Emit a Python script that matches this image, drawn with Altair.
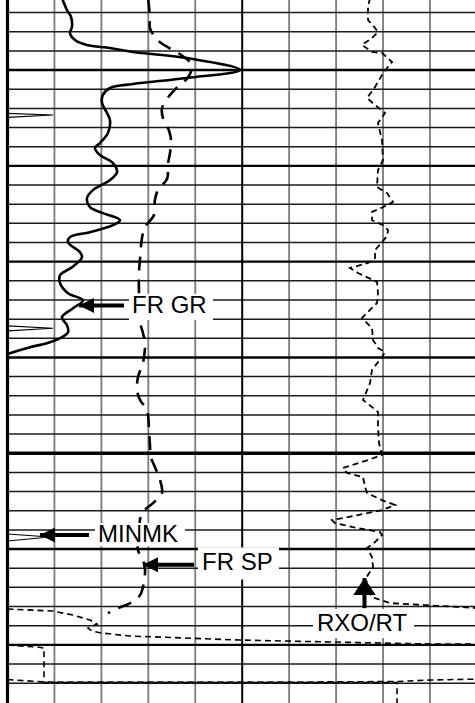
import altair as alt
import pandas as pd
import numpy as np

# ---------------- curve data (depth in ft) ----------------
# Gamma ray, API units; track 1 spans 0-150 API
gr_depth = [5002.40, 5003.73, 5004.46, 5005.50, 5006.13, 5006.86, 5007.38, 5007.70, 5008.11, 5008.74,
            5009.99, 5010.83, 5011.45, 5011.87, 5012.60, 5013.44, 5014.48, 5015.22, 5016.57, 5017.62,
            5018.14, 5018.87, 5019.71, 5020.65, 5021.48, 5022.53, 5023.37, 5024.31, 5024.93, 5025.66,
            5026.19, 5026.92, 5027.44, 5027.97, 5029.01, 5029.53, 5030.58, 5031.41, 5032.25, 5033.29,
            5034.03, 5034.86, 5035.80, 5036.63, 5037.37, 5037.99, 5038.51, 5038.93, 5039.56, 5039.67]
gr_api = [34.6, 38.0, 40.6, 41.2, 39.9, 43.1, 50.8, 65.5, 80.2, 114.7,
          148.6, 114.7, 80.2, 65.5, 61.0, 60.4, 63.6, 65.5, 64.2, 59.1,
          55.9, 59.1, 67.4, 70.0, 65.5, 54.6, 50.8, 52.7, 61.0, 71.9,
          67.4, 52.7, 39.9, 38.7, 46.3, 47.6, 41.2, 33.6, 33.6, 38.7,
          48.3, 41.9, 34.8, 38.0, 38.7, 33.6, 25.2, 14.4, 1.6, 0.0]

# Spontaneous potential, mV; track 1 spans -100 to 0 mV
sp_depth = [5002.48, 5004.56, 5005.61, 5006.90, 5007.74, 5008.47, 5009.51, 5010.77, 5011.82, 5012.86,
            5014.01, 5015.06, 5016.31, 5017.36, 5018.71, 5019.76, 5021.34, 5022.52, 5023.56, 5025.13,
            5026.38, 5027.53, 5029.62, 5031.18, 5032.96, 5036.30, 5037.45, 5038.49, 5040.58, 5042.04,
            5043.40, 5044.44, 5045.49, 5047.58, 5049.14, 5050.40, 5051.44, 5052.80, 5054.16, 5055.20,
            5056.25, 5058.02, 5060.11, 5061.15, 5062.20, 5063.97, 5064.81, 5065.54, 5066.17, 5066.69]
sp_mv = [-40.1, -39.3, -39.3, -35.9, -30.8, -25.7, -21.4, -23.1, -27.8, -31.6,
         -34.2, -33.7, -31.2, -30.3, -30.8, -31.6, -32.0, -35.9, -37.2, -37.6,
         -41.4, -42.7, -43.5, -44.0, -44.0, -43.5, -42.3, -41.4, -42.3, -44.4,
         -44.8, -43.5, -40.6, -39.7, -39.3, -38.9, -37.2, -35.0, -34.2, -38.0,
         -42.7, -44.0, -44.4, -42.3, -41.4, -42.3, -43.5, -47.0, -52.9, -57.2]

# Micro-log kicks, ohm-m; track 1 spans 0-20 ohm-m
minmk_kick = [1, 1, 1, 2, 2, 2, 3, 3, 3]
minmk_depth = [5014.51, 5014.69, 5014.93, 5036.71, 5036.95, 5037.23, 5058.43, 5058.74, 5059.16]
minmk_ohmm = [0.0, 3.88, 0.0, 0.0, 3.88, 0.0, 0.0, 3.62, 0.0]

# RXO/RT ratio; track 2 spans 0-2
rxo_depth = [5002.48, 5003.42, 5004.77, 5005.61, 5006.03, 5006.65, 5007.38, 5008.11, 5008.21, 5009.16,
             5009.78, 5010.51, 5011.77, 5012.91, 5013.65, 5014.48, 5015.53, 5017.30, 5019.39, 5020.44,
             5022.21, 5022.84, 5023.77, 5024.30, 5024.81, 5025.66, 5026.19, 5026.71, 5027.32, 5027.97,
             5028.78, 5029.62, 5030.14, 5030.66, 5031.18, 5032.12, 5033.27, 5034.31, 5035.25, 5035.88,
             5036.92, 5038.17, 5039.01, 5039.43, 5039.95, 5041.31, 5042.66, 5044.44, 5044.75, 5045.69,
             5047.25, 5048.93, 5050.18, 5050.71, 5051.54, 5052.06, 5052.48, 5053.53, 5054.15, 5054.89,
             5055.41, 5055.93, 5056.46, 5056.98, 5057.29, 5057.71, 5058.23, 5058.54, 5059.27, 5059.90,
             5060.84, 5061.88, 5063.03, 5064.29, 5065.02, 5065.64, 5065.94, 5066.17]
rxo_ratio = [1.089, 1.072, 1.072, 1.132, 1.157, 1.106, 1.021, 1.106, 1.191, 1.277,
             1.234, 1.191, 1.132, 1.064, 1.132, 1.217, 1.157, 1.191, 1.200, 1.157,
             1.149, 1.234, 1.285, 1.200, 1.106, 1.106, 1.200, 1.243, 1.234, 1.191,
             1.132, 1.132, 1.072, 0.919, 0.987, 1.149, 1.157, 1.149, 1.072, 1.021,
             1.106, 1.115, 1.157, 1.217, 1.191, 1.106, 1.089, 1.029, 1.064, 1.157,
             1.157, 1.166, 1.191, 1.072, 0.859, 0.893, 1.029, 1.047, 1.064, 1.191,
             1.302, 1.191, 0.987, 0.765, 0.791, 0.944, 1.174, 1.191, 1.132, 1.064,
             1.106, 1.115, 1.055, 1.072, 1.106, 1.260, 1.686, 2.027]

# Wrapped / backup traces, in chart divisions (0-10 across both tracks)
backup_depth = [5066.26, 5066.47, 5066.89, 5067.41, 5067.83, 5068.25, 5068.56,
                5068.77, 5069.08, 5069.19, 5069.50, 5069.71, 5069.92, 5069.92]
backup_div = [0.0, 0.969, 1.395, 1.758, 1.907, 1.715, 1.800,
              2.013, 2.610, 3.249, 4.953, 6.977, 9.065, 10.066]
trace_b_depth = [5070.02, 5070.23, 5070.33, 5073.93, 5073.93, 5073.93, 5076.30]
trace_b_div = [0.0, 0.639, 0.778, 0.778, 4.10, 8.298, 8.298]
trace_c_depth = [5073.62, 5073.88, 5073.88, 5073.83, 5073.67, 5073.57]
trace_c_div = [0.0, 0.799, 6.23, 8.298, 9.0, 10.066]

# Curve labels: text anchor, white box and pointer (divisions / depth)
labels = pd.DataFrame({
    "text": ["FR GR", "MINMK", "FR SP"],
    "tx": [2.652, 1.928, 4.144],
    "td": [5034.63, 5058.58, 5061.45],
    "bx0": [2.588, 1.864, 4.058], "bx1": [4.378, 3.781, 5.784],
    "bd0": [5033.37, 5057.28, 5059.85], "bd1": [5036.09, 5059.70, 5063.17],
    "tip": [1.523, 0.692, 2.887], "shaft_end": [2.482, 1.736, 3.973],
    "ad": [5034.57, 5058.53, 5061.65],
})
rxo_label = pd.DataFrame({
    "text": ["RXO/RT"], "tx": [7.552], "td": [5067.80],
    "bx0": [6.508], "bx1": [8.660], "bd0": [5066.26], "bd1": [5069.29],
    "ax": [7.605], "tip": [5063.03], "shaft_end": [5066.17],
})

# ---------------- layout ----------------
W, H = 475, 703
X0_PX, DIV_PX = 7.5, 46.94
DEPTH_TOP, DEPTH_BOTTOM = 5002.685, 5076.07
FONT = "Liberation Sans"


def xscale(left_value, per_div, first_div=0.0):
    lo = left_value + per_div * (-X0_PX / DIV_PX - first_div)
    hi = left_value + per_div * ((W - X0_PX) / DIV_PX - first_div)
    return alt.Scale(domain=[lo, hi], nice=False, zero=False)


YS = alt.Scale(domain=[DEPTH_TOP, DEPTH_BOTTOM], reverse=True, nice=False, zero=False)
DIVS = xscale(0.0, 1.0)


def ych(field="depth"):
    return alt.Y(f"{field}:Q", scale=YS, axis=None)


def xch(field, scale):
    return alt.X(f"{field}:Q", scale=scale, axis=None)


# ---------------- grid ----------------
grid_depths = np.arange(5004, 5075, 2)
hgrid = pd.DataFrame({"depth": grid_depths, "x0": 0.0, "x1": 10.5})
minor = hgrid[hgrid.depth % 10 != 0]
major = hgrid[(hgrid.depth % 10 == 0) & (hgrid.depth % 50 != 0)]
fifty = hgrid[hgrid.depth % 50 == 0]

vgrid = pd.DataFrame({"div": [1, 2, 3, 4, 6, 7, 8, 9]})
vgrid["d0"], vgrid["d1"] = DEPTH_TOP, DEPTH_BOTTOM
edges = pd.DataFrame({"div": [0.0], "d0": [DEPTH_TOP], "d1": [DEPTH_BOTTOM]})
divider = pd.DataFrame({"div": [5.0], "d0": [DEPTH_TOP], "d1": [DEPTH_BOTTOM]})


def hrule(df, width, color):
    return alt.Chart(df).mark_rule(strokeWidth=width, color=color).encode(
        y=ych(), x=xch("x0", DIVS), x2="x1:Q")


def vrule(df, width, color):
    return alt.Chart(df).mark_rule(strokeWidth=width, color=color).encode(
        x=xch("div", DIVS), y=ych("d0"), y2="d1:Q")


grid = [
    vrule(vgrid, 1.8, "#7a7a7a"),
    hrule(minor, 1.5, "#1a1a1a"),
    hrule(major, 2.4, "#000000"),
    hrule(fifty, 3.4, "#000000"),
    vrule(divider, 2.0, "#000000"),
    vrule(edges, 3.2, "#000000"),
]


# ---------------- curves ----------------
def curve(depth, values, field, scale, width, dash=None, detail=None, interp="linear"):
    df = pd.DataFrame({"depth": depth, field: values})
    df["seq"] = np.arange(len(df))
    kw = dict(strokeWidth=width, color="black", clip=True, interpolate=interp)
    if dash:
        kw["strokeDash"] = dash
    enc = dict(x=xch(field, scale), y=ych(), order="seq:Q")
    if detail is not None:
        df["kick"] = detail
        enc["detail"] = "kick:N"
    return alt.Chart(df).mark_line(**kw).encode(**enc)


curves = [
    curve(gr_depth, gr_api, "gr", xscale(0, 30), 2.6, interp="catmull-rom"),
    curve(sp_depth, sp_mv, "sp", xscale(-100, 20), 2.6, dash=[14, 9], interp="catmull-rom"),
    curve(minmk_depth, minmk_ohmm, "minmk", xscale(0, 4), 1.2, detail=minmk_kick),
    curve(rxo_depth, rxo_ratio, "rxo", xscale(0, 0.4, 5), 1.8, dash=[6, 4]),
    curve(backup_depth, backup_div, "backup", DIVS, 1.6, dash=[6, 4]),
    curve(trace_b_depth, trace_b_div, "tb", DIVS, 1.6, dash=[6, 4]),
    curve(trace_c_depth, trace_c_div, "tc", DIVS, 1.6, dash=[6, 4]),
]

# ---------------- labels ----------------
LEFT_HEAD = "M0,0 L1,-0.5 L1,0.5 Z"
UP_HEAD = "M0,0 L-0.66,1 L0.66,1 Z"

label_layers = [
    alt.Chart(labels).mark_rect(color="white").encode(
        x=xch("bx0", DIVS), x2="bx1:Q", y=ych("bd0"), y2="bd1:Q"),
    alt.Chart(labels).mark_text(align="left", baseline="middle", font=FONT,
                                fontSize=24, color="black").encode(
        x=xch("tx", DIVS), y=ych("td"), text="text:N"),
    alt.Chart(labels).mark_rule(strokeWidth=4, color="black").encode(
        x=xch("tip", DIVS), x2="shaft_end:Q", y=ych("ad")),
    alt.Chart(labels).mark_point(shape=LEFT_HEAD, size=(2 * 15) ** 2, filled=True,
                                 color="black", opacity=1).encode(
        x=xch("tip", DIVS), y=ych("ad")),
    alt.Chart(rxo_label).mark_rect(color="white").encode(
        x=xch("bx0", DIVS), x2="bx1:Q", y=ych("bd0"), y2="bd1:Q"),
    alt.Chart(rxo_label).mark_text(align="center", baseline="middle", font=FONT,
                                   fontSize=24, color="black").encode(
        x=xch("tx", DIVS), y=ych("td"), text="text:N"),
    alt.Chart(rxo_label).mark_rule(strokeWidth=4, color="black").encode(
        x=xch("ax", DIVS), y=ych("tip"), y2="shaft_end:Q"),
    alt.Chart(rxo_label).mark_point(shape=UP_HEAD, size=(2 * 17) ** 2, filled=True,
                                    color="black", opacity=1).encode(
        x=xch("ax", DIVS), y=ych("tip")),
]

chart = alt.layer(*grid, *curves, *label_layers).resolve_scale(
    x="independent"
).properties(
    width=W, height=H, padding=0, autosize="none", background="white"
).configure_view(stroke=None)

chart.save("out.html", embed_options={"renderer": "svg", "actions": False})
